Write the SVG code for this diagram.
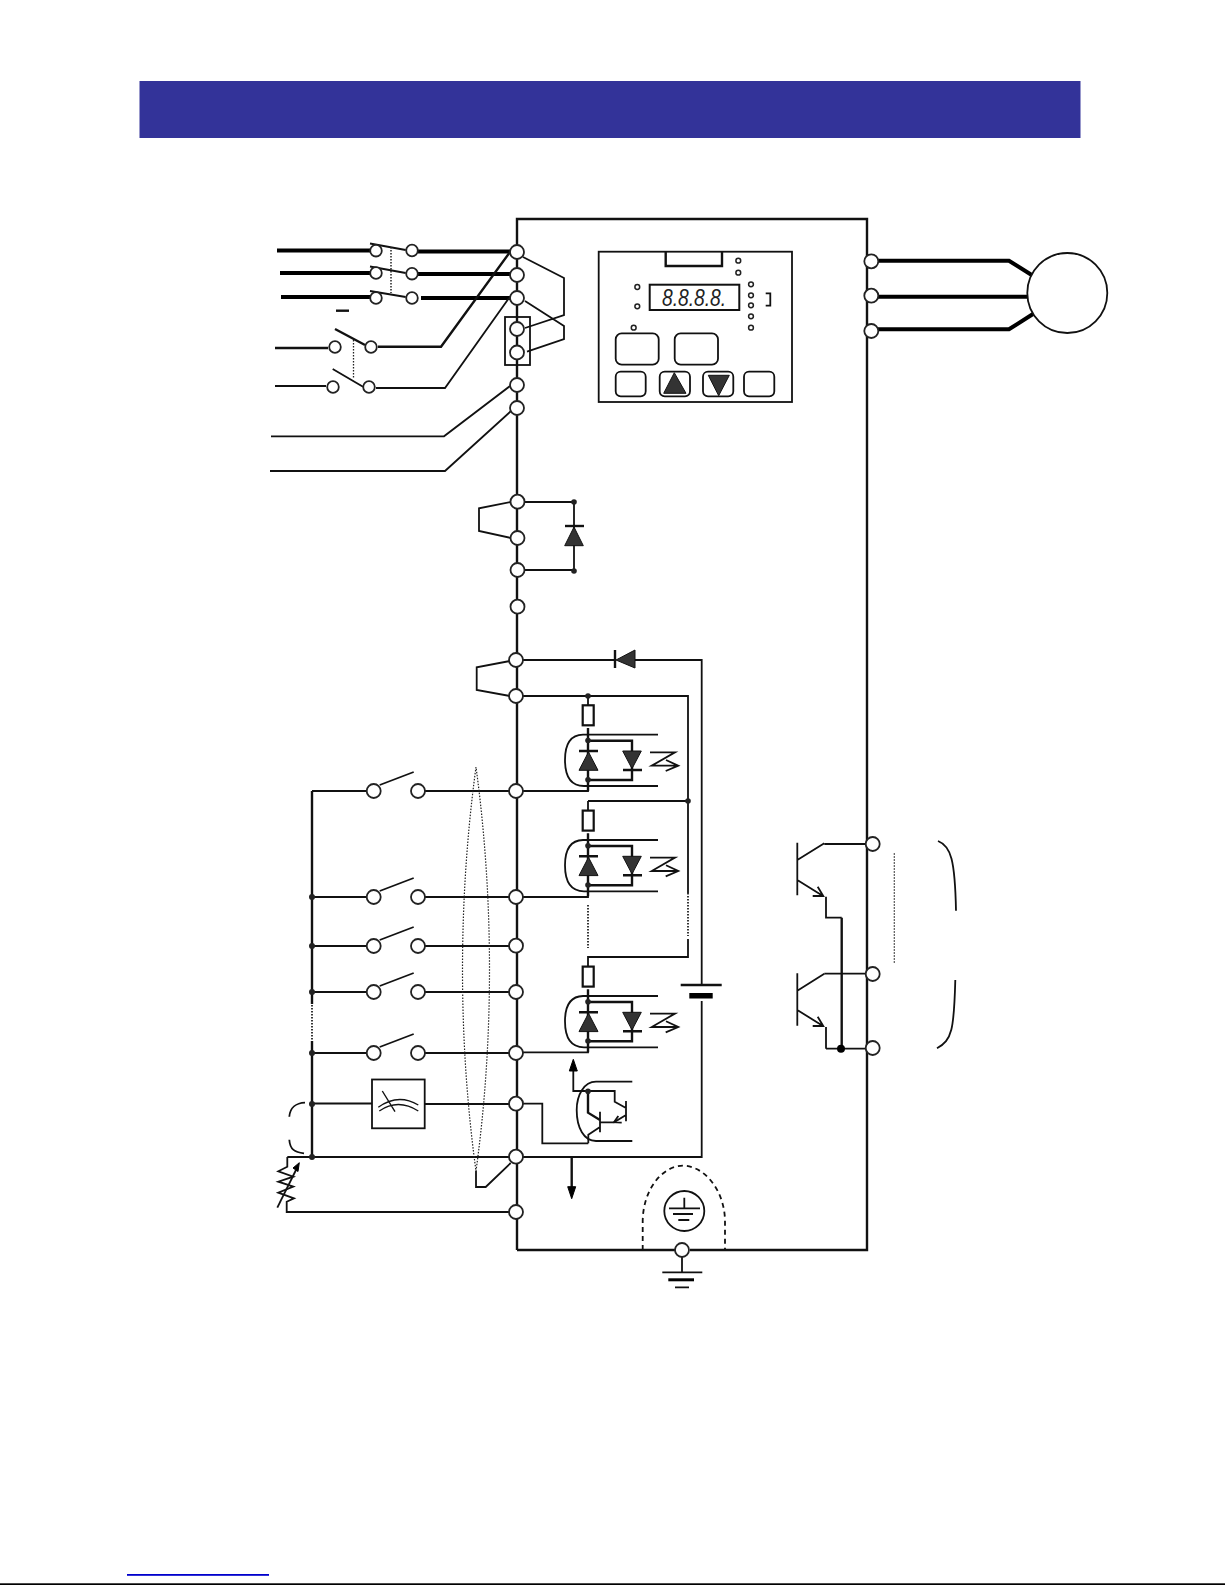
<svg xmlns="http://www.w3.org/2000/svg" width="1225" height="1585" viewBox="0 0 1225 1585">
<style>
.w{fill:none;stroke:#111;stroke-width:1.8;stroke-linejoin:miter}
.m{fill:none;stroke:#111;stroke-width:2.400;stroke-linejoin:miter}
.p{fill:none;stroke:#000;stroke-width:4}
.t{fill:#fff;stroke:#222;stroke-width:1.800}
.l{fill:#fff;stroke:#222;stroke-width:1.500}
.d{fill:#222;stroke:none}
.f{fill:#333;stroke:#111;stroke-width:1}
.dot{fill:none;stroke:#222;stroke-width:1.300;stroke-dasharray:1.500 1.500}
.b{fill:#fff;stroke:#111;stroke-width:1.800}
</style>
<defs>
<g id="sw"><path class="w" d="M6,-6 L40,-19"/><circle class="t" cx="0" cy="0" r="7"/><circle class="t" cx="44.300" cy="0" r="7"/></g>
<g id="opto">
<path class="w" d="M658,734.700 H583 C570,735 565,745 565,760 C565,776 571,786 584,786 H658"/>
<path class="m" d="M588,728 V791 M588,740.700 H632 V780 H588"/>
<rect class="b" x="582.700" y="705.300" width="11" height="20" style="stroke-width:2.200"/>
<path class="m" d="M579,751 H598 M623,770 H642"/>
<path class="f" d="M588.500,752 L598,770.300 H579 Z M622.700,751 H641.300 L632,768.700 Z"/>
<circle class="d" cx="588" cy="740.500" r="2.800"/><circle class="d" cx="588" cy="779.700" r="2.800"/>
<path class="w" d="M650,752.300 H675 L651.700,765.700 H678.300 M666,760 L678.300,765.700 L665.700,771"/>
</g>
</defs>
<rect width="1225" height="1585" fill="#fff"/>
<g id="header"><rect x="139.500" y="81" width="941" height="57" fill="#333399"/></g>

<g id="connectors">
<!-- housing -->
<path class="m" d="M517,1250 V219 H867 V1250 H690 M675,1250 H517"/>
<!-- three-phase input -->
<path class="p" d="M277,250.500 H370 M280,273 H370 M281,297 H370 M418,251.500 H510 M418,274 H510 M421,298 H510"/>
<path class="w" d="M370,243.500 L405.700,250 M370,266.500 L405.700,273 M370,291 L405.700,297"/>
<path class="dot" d="M391,247 V293" style="stroke-width:1.500"/>
<path class="m" d="M336,310.700 H349"/>
<!-- control supply -->
<path class="m" d="M275,348 H328 M335,329 L365,345 M378,346.700 H441 L510,252"/>
<path class="w" d="M275,386 H326 M332.700,369 L363,386.700 M376,388 H445 L509,298"/>
<path class="dot" d="M353.500,340 V379"/>
<path class="w" d="M271,436.300 H444 L510,386 M270,471 H445 L511,411"/>
<!-- jumpers -->
<path class="w" d="M523,257 L564,278 V315 L525,328 M525,301 L564,326 V339 L527,351.700"/>
<rect x="505" y="317" width="25" height="48" fill="none" stroke="#111" stroke-width="1.800"/>
<path class="w" d="M511,502 L479,508.300 V531 L511,538"/>
<path class="w" d="M510,661 L476.700,667.300 V690 L510,696"/>
<!-- DC link diode -->
<path class="w" d="M523,502 H574 V571 M523,570 H574"/>
<path class="m" d="M565,526 H584"/>
<path class="f" d="M574,527 L583.300,545.700 H564.700 Z"/>
<circle class="d" cx="574" cy="502" r="2.800"/><circle class="d" cx="574" cy="571" r="2.800"/>
<!-- PCS rail -->
<path class="w" d="M523,660 H615 M635,660 H701.700 V985 M701.700,1001 V1157 H523"/>
<path class="m" d="M615,650 V668"/>
<path class="f" d="M616,660 L635,650 V668 Z"/>
<path class="m" d="M680.700,985 H721.700"/>
<rect x="689.300" y="993" width="23.400" height="5.500" fill="#000"/>
<path class="w" d="M523,696 H688 V893 M688,939 V957 H588 V966 M588,696 V705 M588,801 H688 M588,801 V811"/>
<path class="dot" d="M688,893 V936" style="stroke-width:1.800"/>
<path class="dot" d="M588,905 V948" style="stroke-width:1.800"/>
<circle class="d" cx="588" cy="696" r="2.800"/><circle class="d" cx="688" cy="801" r="2.800"/>
<path class="w" d="M425,791 H510 M523,791 H588 V786 M425,897 H510 M523,897 H588 V891 M425,946 H510 M425,992 H510 M425,1053 H510 M523,1052.300 H588 V1047"/>
<!-- common bus -->
<path class="m" d="M312,791 V1004 M312,1041 V1157"/>
<path class="dot" d="M312,1005 V1040" style="stroke-width:1.800"/>
<path class="w" d="M312,791 H367 M312,897 H367 M312,946 H367 M312,992 H367 M312,1053 H367 M312,1103.500 H372 M425,1104 H510 M287.300,1157 H510"/>
<path class="d" d="M309,897 a3,3 0 1 0 6,0 a3,3 0 1 0 -6,0 M309,946 a3,3 0 1 0 6,0 a3,3 0 1 0 -6,0 M309,992 a3,3 0 1 0 6,0 a3,3 0 1 0 -6,0 M309,1053 a3,3 0 1 0 6,0 a3,3 0 1 0 -6,0 M309,1104 a3,3 0 1 0 6,0 a3,3 0 1 0 -6,0 M309,1157 a3,3 0 1 0 6,0 a3,3 0 1 0 -6,0"/>
<path class="w" d="M305,1102.700 C296,1103 290,1108 289.300,1116.700 M289.300,1139.700 C290,1150 295,1152 304,1153.300"/>
<!-- potentiometer -->
<path class="w" d="M287.300,1157 V1166.700 L278.300,1171.300 L293.300,1176.700 L278.300,1181.700 L293.300,1186.700 L278.300,1192.700 L294,1198.300 L286.700,1201.700 V1212 H510"/>
<path class="w" d="M277.300,1207.700 L296,1170"/>
<path d="M299.300,1162.700 L293,1168 L298,1171.500 Z" fill="#000" stroke="#000"/>
<!-- shield -->
<path class="dot" d="M476,767 C458,900 458,1040 476,1171 C494,1040 494,900 476,767 Z" style="stroke-width:1.200"/>
<path class="w" d="M476,1171 V1187 H485.700 L510.700,1163"/>
<!-- analog out -->
<path class="w" d="M523,1103.700 H542.300 V1143.300 H588.300"/>
<path class="m" d="M571.700,1157 V1190"/>
<path d="M571.700,1198.700 L567.700,1186.700 H575.700 Z" fill="#000" stroke="#000"/>
<!-- output relay -->
<path class="w" d="M824.300,844 H866 M824.300,973.700 H866 M826,1048.700 H866 M826,896.700 V917.700 H841.700 M826,1027 V1048.700"/>
<path class="m" d="M841.700,917.700 V1048"/>
<circle cx="841" cy="1048.700" r="4" fill="#000"/>
<path class="dot" d="M894.300,853.300 V963.300" style="stroke-width:1.200"/>
<path class="w" d="M938,841 C951,846 955,860 956,910.700 M955.300,980 C954,1030 952,1040 937,1048.300"/>
<!-- motor wiring -->
<path class="p" d="M876,260.700 H1009 L1031.700,275 M876,296.700 H1027 M876,329.300 H1009 L1033,314"/>
<!-- earth -->
<path class="w" d="M642.700,1250 V1222 C642.700,1190 662,1165.700 683,1165.700 C704,1165.700 725,1190 725,1222 V1250" stroke-dasharray="5 4"/>
<path class="w" d="M682,1257 V1272.300 M662.300,1272.300 H702.300 M675,1287.300 H689"/>
<rect x="668.300" y="1278.300" width="25.700" height="3" fill="#000"/>
</g>

<g id="terminals">
<circle class="t" cx="517" cy="252" r="7"/><circle class="t" cx="517" cy="275" r="7"/><circle class="t" cx="517" cy="298" r="7"/>
<circle class="t" cx="517" cy="329" r="7"/><circle class="t" cx="517" cy="352.500" r="7"/><circle class="t" cx="517" cy="385" r="7"/><circle class="t" cx="517" cy="408" r="7"/>
<circle class="t" cx="517.500" cy="501.700" r="7"/><circle class="t" cx="517.500" cy="538" r="7"/><circle class="t" cx="517.500" cy="570" r="7"/><circle class="t" cx="517.500" cy="606.700" r="7"/>
<circle class="t" cx="516" cy="660" r="7"/><circle class="t" cx="516" cy="696" r="7"/><circle class="t" cx="516" cy="791" r="7"/><circle class="t" cx="516" cy="897" r="7"/><circle class="t" cx="516" cy="945.700" r="7"/><circle class="t" cx="516" cy="992" r="7"/><circle class="t" cx="516" cy="1053" r="7"/><circle class="t" cx="516" cy="1103.700" r="7"/><circle class="t" cx="516" cy="1156.700" r="7"/><circle class="t" cx="516" cy="1212" r="7"/>
<circle class="t" cx="682" cy="1250" r="7"/>
<circle class="t" cx="871.300" cy="261.300" r="7"/><circle class="t" cx="871.300" cy="295.700" r="7"/><circle class="t" cx="871.300" cy="331" r="7"/>
<circle class="t" cx="872.700" cy="844" r="7"/><circle class="t" cx="872.700" cy="974" r="7"/><circle class="t" cx="872.700" cy="1048" r="7"/>
</g>

<g id="breaker">
<circle class="t" cx="376" cy="250.700" r="5.800"/><circle class="t" cx="412" cy="250.500" r="5.800"/>
<circle class="t" cx="376" cy="273" r="5.800"/><circle class="t" cx="412" cy="273.700" r="5.800"/>
<circle class="t" cx="376" cy="298" r="5.800"/><circle class="t" cx="412" cy="298" r="5.800"/>
</g>
<g id="control-breaker">
<circle class="t" cx="335" cy="347" r="5.800"/><circle class="t" cx="371" cy="347" r="5.800"/>
<circle class="t" cx="333" cy="387" r="5.800"/><circle class="t" cx="369" cy="387" r="5.800"/>
</g>

<g id="operator-panel">
<rect x="598.700" y="251.700" width="193.300" height="150.300" fill="#fff" stroke="#111" stroke-width="1.800"/>
<path class="m" d="M665.700,251.700 V266 H722 V251.700"/>
<g class="leds">
<circle class="l" cx="738.300" cy="260.700" r="2.400"/><circle class="l" cx="738.300" cy="272.700" r="2.400"/>
<circle class="l" cx="637.300" cy="287" r="2.400"/><circle class="l" cx="637.300" cy="306.300" r="2.400"/><circle class="l" cx="633.700" cy="327.700" r="2.400"/>
<circle class="l" cx="751" cy="284.300" r="2.400"/><circle class="l" cx="751" cy="295.300" r="2.400"/><circle class="l" cx="751" cy="305.300" r="2.400"/><circle class="l" cx="751" cy="316.300" r="2.400"/><circle class="l" cx="751" cy="327.700" r="2.400"/>
</g>
<path class="w" d="M765.700,293.300 H770.300 V305.700 H765.700"/>
<rect x="649.700" y="284.700" width="89.600" height="25.300" fill="#fff" stroke="#111" stroke-width="2"/>
<text transform="translate(662,306) scale(0.8,1)" font-family="'Liberation Sans',sans-serif" font-size="24" font-style="italic" fill="#222">8.8.8.8.</text>
<rect class="b" x="615.700" y="333.300" width="43" height="31.400" rx="6"/><rect class="b" x="674.700" y="333.300" width="43.300" height="31.400" rx="6"/>
<rect class="b" x="615.700" y="371.700" width="30" height="24.600" rx="5"/><rect class="b" x="659.700" y="371.700" width="30.300" height="24.600" rx="5"/><rect class="b" x="703" y="371.700" width="30.300" height="24.600" rx="5"/><rect class="b" x="744" y="371.700" width="30.300" height="24.600" rx="5"/>
<path class="f" d="M674.300,372.700 L686,393.300 H663.700 Z M708.300,375.300 H729.300 L718.700,395.700 Z"/>
</g>

<g id="motor"><circle cx="1067.300" cy="293" r="40" fill="#fff" stroke="#111" stroke-width="1.800"/></g>

<g id="switches">
<use href="#sw" x="373.700" y="791"/><use href="#sw" x="373.700" y="897"/><use href="#sw" x="373.700" y="946"/><use href="#sw" x="373.700" y="992"/><use href="#sw" x="373.700" y="1053"/>
</g>

<g id="optocoupler-1"><use href="#opto"/></g>
<g id="optocoupler-2"><use href="#opto" y="105.300"/></g>
<g id="optocoupler-3"><use href="#opto" y="261.300"/></g>

<g id="meter">
<rect x="372" y="1079.500" width="52.700" height="48.800" fill="#fff" stroke="#111" stroke-width="1.800"/>
<path class="w" d="M378.300,1107.300 Q398,1093 418.300,1105 M379.300,1111 Q398,1098 418.300,1111 M382.300,1091 L395,1111.700" style="stroke-width:1.400"/>
</g>

<g id="output-transistor">
<path class="w" d="M632.300,1081.700 H596 C584,1081.700 576.700,1095 576.700,1110 C576.700,1128 584,1141 596,1141 H632.300"/>
<path class="w" d="M573.300,1071 V1091 H614.700 V1101.700 L626,1108 M626,1101 V1121.300 M626,1115 L614,1122.300 H600 M600,1111.700 V1132.300 M600,1127 L588.300,1134.700 V1143.300"/>
<path class="m" d="M588,1091 V1112.700 L600,1120"/>
<path class="w" d="M618.300,1116 L614,1122.300 L621.700,1122.700"/>
<path d="M573.300,1059.300 L569.300,1071 H577.300 Z" fill="#000" stroke="#000"/>
<circle class="d" cx="588" cy="1091.300" r="2.800"/>
</g>

<g id="relay-transistors">
<path class="w" d="M797.300,842.700 V895.300 M797.300,860 L824.300,843.300 M797.300,880 L823,896 M817.700,886.700 L823.300,896 H812.700"/>
<path class="w" d="M797.300,973.300 V1025.700 M797.300,990.700 L824.300,973.700 M797.300,1010 L823,1026 M817.700,1016.700 L823.300,1026 H812.700"/>
</g>

<g id="earth-symbol">
<circle cx="684.300" cy="1211" r="20" fill="#fff" stroke="#111" stroke-width="1.800"/>
<path class="w" d="M684.300,1197.700 V1208.300 M669,1208.300 H700 M673,1214 H693 M678.300,1220 H689.300"/>
</g>

<g id="page-footer">
<rect x="127" y="1574" width="142" height="1.800" fill="#0000cc"/>
<rect x="0" y="1583.300" width="1225" height="1.700" fill="#000"/>
</g>
</svg>
